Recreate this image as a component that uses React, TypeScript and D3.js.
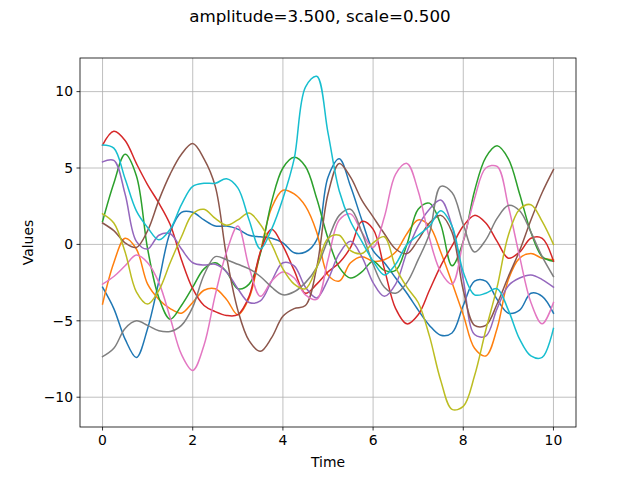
import React from "react";
import * as d3 from "d3";

const times: number[] = d3.range(0, 10.0001, 0.25).map((t) => +t.toFixed(2));

const blue = [-2.8,-4.2,-6.2,-7.4,-5.5,-2.4,0.8,2.1,2.1,1.6,1.2,1.2,1.0,0.6,0.5,0.4,0.1,-0.55,-0.5,0.3,4.4,5.6,3.8,1.6,-0.4,-1.2,-2.2,-3.2,-4.3,-5.3,-5.95,-5.8,-4.0,-2.4,-2.4,-3.6,-4.5,-4.3,-3.2,-3.4,-4.5];
const orange = [-3.9,-1.2,0.4,-0.3,-2.6,-3.6,-4.2,-4.5,-3.8,-3.0,-2.9,-3.6,-4.6,-3.5,-0.5,2.4,3.55,3.3,2.5,0.8,-2.0,-2.4,-1.2,-0.8,-1.1,-1.0,-0.5,0.7,1.6,1.2,-0.5,-2.5,-4.6,-6.8,-7.3,-5.5,-2.3,-0.9,-0.6,-0.9,-1.0];
const green = [1.5,4.0,5.9,4.5,-0.3,-3.5,-4.9,-4.0,-2.8,-1.6,-1.2,-1.8,-2.9,-2.6,-0.6,2.8,5.0,5.7,5.1,3.0,0.4,-1.5,-2.2,-1.8,-1.1,-1.7,-1.7,0.0,2.3,2.7,1.3,-1.4,0.2,3.5,5.7,6.45,5.6,3.3,0.8,-0.8,-1.1];
const red = [6.5,7.4,6.8,5.3,3.9,2.7,1.3,-1.0,-2.9,-4.0,-4.4,-4.65,-4.6,-3.4,-0.5,1.0,-0.1,-1.7,-3.2,-2.6,-1.8,-1.2,-0.2,1.5,1.0,-1.6,-4.2,-5.2,-4.6,-3.0,-1.4,-0.1,1.2,1.9,1.4,0.2,-0.9,-0.5,0.4,0.4,-1.1];
const purple = [5.4,5.5,3.3,0.2,-0.3,0.6,0.7,-0.3,-1.2,-1.35,-1.3,-1.8,-2.9,-3.8,-3.7,-2.4,-1.2,-1.4,-2.8,-3.5,-2.3,-0.6,0.2,-0.8,-2.5,-3.4,-2.6,-0.5,1.2,2.3,2.9,1.2,-2.3,-5.9,-6.0,-4.2,-2.7,-2.2,-2.0,-2.3,-2.8];
const brown = [1.4,0.9,0.1,-0.2,0.9,2.9,4.6,5.9,6.6,5.6,3.8,-0.8,-4.3,-6.3,-7.0,-6.1,-4.7,-4.2,-4.0,-1.5,3.3,5.3,4.4,2.9,1.8,0.7,-0.3,-0.6,0.3,1.4,1.9,0.8,-3.0,-5.3,-5.3,-3.9,-2.1,-0.4,1.6,3.4,4.9];
const pink = [-2.6,-2.1,-1.4,-0.7,-1.2,-2.5,-4.8,-7.2,-8.25,-6.6,-3.3,-0.5,1.2,-1.5,-3.4,-2.4,-1.8,-2.2,-3.3,-3.6,-1.0,1.6,2.0,0.8,-0.2,1.8,4.6,5.3,3.5,0.4,-1.8,-2.6,0.2,3.0,5.0,5.1,2.5,-0.8,-3.8,-5.2,-3.8];
const gray = [-7.35,-6.8,-5.5,-5.0,-5.3,-5.65,-5.7,-5.3,-4.1,-2.0,-0.8,-1.0,-1.3,-1.6,-2.1,-2.8,-3.3,-3.1,-2.5,-1.5,0.3,1.9,2.3,0.8,-1.3,-2.8,-3.2,-2.5,-1.0,0.7,3.8,3.4,1.3,-0.5,0.3,1.7,2.55,2.2,0.8,-0.8,-2.1];
const olive = [2.0,1.4,-0.5,-3.1,-3.9,-3.0,-1.2,0.5,2.0,2.3,1.7,1.25,1.6,2.05,1.3,0.0,-1.6,-2.6,-2.9,-1.5,0.4,0.6,-0.4,-0.6,0.1,0.5,-1.5,-2.8,-3.8,-6.0,-8.9,-10.8,-10.6,-8.6,-5.6,-2.8,0.6,2.3,2.6,1.5,0.0];
const cyan = [6.5,6.3,4.3,2.2,1.1,0.3,1.0,2.6,3.8,4.0,4.0,4.3,3.7,1.6,-0.3,1.0,3.0,5.6,10.3,11.0,7.3,3.5,1.5,0.2,-1.1,-2.0,-1.3,0.0,0.6,1.2,2.2,1.2,-1.8,-3.3,-3.2,-2.9,-4.3,-6.2,-7.3,-7.4,-5.5];

const seriesList = [blue, orange, green, red, purple, brown, pink, gray, olive, cyan];
const colors = ["#1f77b4","#ff7f0e","#2ca02c","#d62728","#9467bd","#8c564b","#e377c2","#7f7f7f","#bcbd22","#17becf"];

const xTicks = [0, 2, 4, 6, 8, 10];
const yTicks = [-10, -5, 0, 5, 10];
const xDomain: [number, number] = [-0.5, 10.5];
const yDomain: [number, number] = [-11.95, 12.2];

const W = 640, H = 480;
const L = 80, R = 576, T = 58, B = 427;
const font = "DejaVu Sans, sans-serif";

export default function App() {
  const x = d3.scaleLinear().domain(xDomain).range([L, R]);
  const y = d3.scaleLinear().domain(yDomain).range([B, T]);
  const line = d3
    .line<number>()
    .x((_, i) => x(times[i]))
    .y((d) => y(d))
    .curve(d3.curveCatmullRom.alpha(0.5));

  return (
    <svg width={W} height={H} style={{ position: "absolute", left: 0, top: 0 }} fontFamily={font}>
      <rect x={0} y={0} width={W} height={H} fill="#fff" />
      <defs>
        <clipPath id="plotclip">
          <rect x={L} y={T} width={R - L} height={B - T} />
        </clipPath>
      </defs>
      <g>
        {xTicks.map((t) => (
          <line key={"gx" + t} x1={x(t)} x2={x(t)} y1={T} y2={B} stroke="#b0b0b0" strokeWidth={0.8} />
        ))}
        {yTicks.map((t) => (
          <line key={"gy" + t} x1={L} x2={R} y1={y(t)} y2={y(t)} stroke="#b0b0b0" strokeWidth={0.8} />
        ))}
      </g>
      <g clipPath="url(#plotclip)">
        {seriesList.map((s, i) => (
          <path key={i} d={line(s) || ""} fill="none" stroke={colors[i]} strokeWidth={1.5} strokeLinejoin="round" strokeLinecap="square" />
        ))}
      </g>
      <rect x={L} y={T} width={R - L} height={B - T} fill="none" stroke="#000" strokeWidth={0.8} />
      {xTicks.map((t) => (
        <g key={"xt" + t}>
          <line x1={x(t)} x2={x(t)} y1={B} y2={B + 3.5} stroke="#000" strokeWidth={0.8} />
          <text x={x(t)} y={B + 18} textAnchor="middle" fontSize={13.9} fill="#000">
            {String(t)}
          </text>
        </g>
      ))}
      {yTicks.map((t) => (
        <g key={"yt" + t}>
          <line x1={L - 3.5} x2={L} y1={y(t)} y2={y(t)} stroke="#000" strokeWidth={0.8} />
          <text x={L - 7} y={y(t)} dy="0.35em" textAnchor="end" fontSize={13.9} fill="#000">
            {t < 0 ? "\u2212" + Math.abs(t) : String(t)}
          </text>
        </g>
      ))}
      <text x={(L + R) / 2} y={467} textAnchor="middle" fontSize={13.9} fill="#000">Time</text>
      <text transform={`translate(33,${(T + B) / 2}) rotate(-90)`} textAnchor="middle" fontSize={13.9} fill="#000">Values</text>
      <text x={W / 2} y={22} textAnchor="middle" fontSize={16.7} fill="#000">amplitude=3.500, scale=0.500</text>
    </svg>
  );
}
